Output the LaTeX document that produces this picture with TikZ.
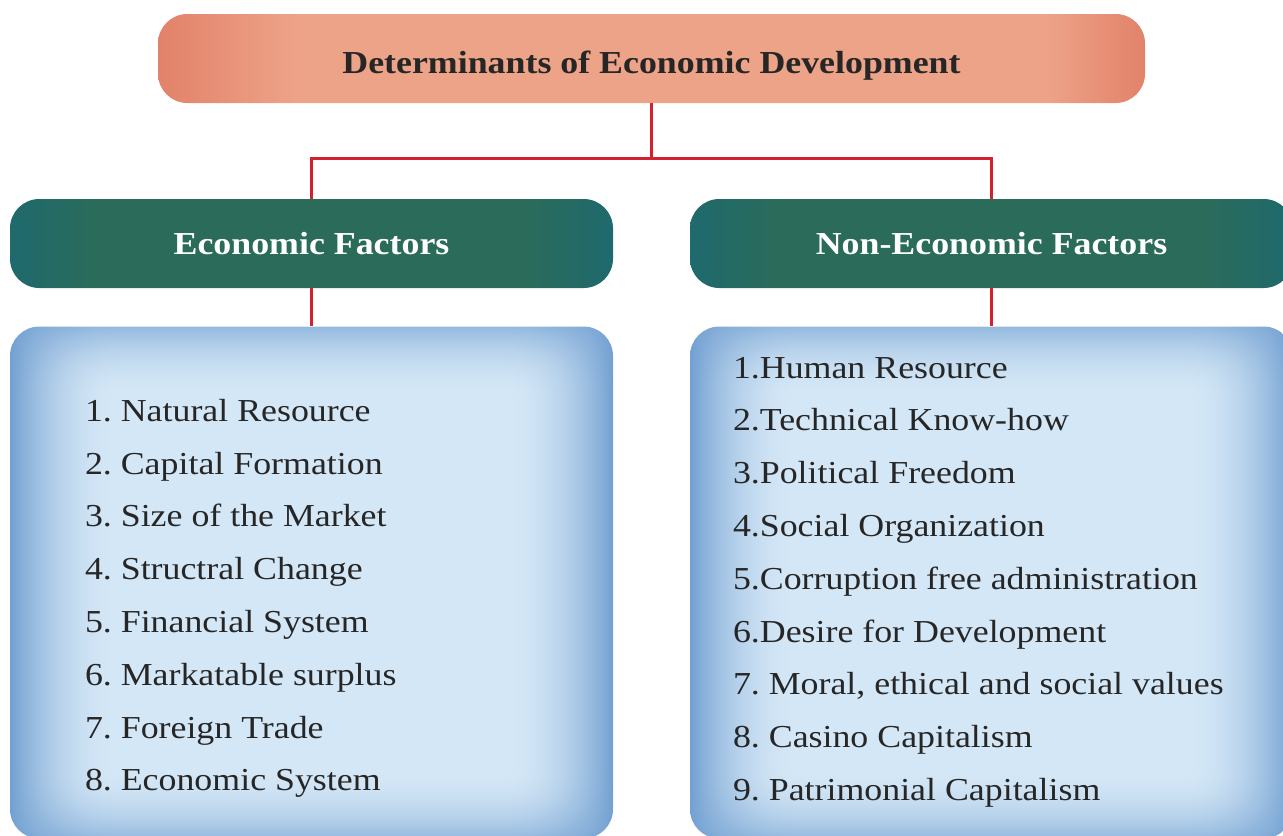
\documentclass[tikz,border=0pt]{standalone}
\usepackage{xcolor}
\usepackage{fontspec}
\setmainfont{Liberation Serif}[FakeStretch=1.12]
\usepackage{tikz}
\usetikzlibrary{positioning}
\definecolor{DRed}{HTML}{D42130}
\definecolor{DSalmonIn}{HTML}{EDA388}
\definecolor{DSalmonOut}{HTML}{E2826A}
\definecolor{DTealIn}{HTML}{2A6B5A}
\definecolor{DTealOut}{HTML}{1F6A6E}
\pgfdeclarehorizontalshading{salmonglow}{100bp}{color(0bp)=(DSalmonOut);color(25bp)=(DSalmonOut);color(32bp)=(DSalmonIn);color(70bp)=(DSalmonIn);color(75bp)=(DSalmonOut);color(100bp)=(DSalmonOut)}
\pgfdeclarehorizontalshading{tealglow}{100bp}{color(0bp)=(DTealOut);color(25bp)=(DTealOut);color(32bp)=(DTealIn);color(68bp)=(DTealIn);color(75bp)=(DTealOut);color(100bp)=(DTealOut)}
% light blue centre, darker rim on all four sides
\pgfdeclarefunctionalshading{blueglow}{\pgfpoint{0bp}{0bp}}{\pgfpoint{100bp}{100bp}}{}{
  dup 75 exch sub exch 25 sub 2 copy gt {exch} if pop
  7 div dup 1 gt {pop 1} if dup 0 lt {pop 0} if
  dup 2 exch sub mul 0.65 mul 0.35 add
  exch
  dup 75 exch sub exch 25 sub 2 copy gt {exch} if pop
  9 div dup 1 gt {pop 1} if dup 0 lt {pop 0} if
  dup 2 exch sub mul
  mul
  dup dup
  0.384 mul 0.447 add 3 1 roll
  0.279 mul 0.627 add exch
  0.145 mul 0.820 add
}

\begin{document}
\begin{tikzpicture}[
  x=0.75pt,y=-0.75pt,
  hd/.style={shade,shading=salmonglow,rounded corners=22pt,
    minimum width=740.25pt,minimum height=66.75pt,
    text height=22pt,text depth=0pt,
    font=\fontsize{24}{28}\selectfont\bfseries,text=black!85},
  cat/.style={shade,shading=tealglow,rounded corners=22pt,
    minimum width=452.25pt,minimum height=66.75pt,
    font=\fontsize{24}{28}\selectfont\bfseries,text=white},
  box/.style={shade,shading=blueglow,rounded corners=22pt,
    minimum width=452.25pt,minimum height=384pt},
  items/.style={inner sep=0pt,align=left,text=black!85,
    font=\fontsize{24}{39.6}\selectfont\frenchspacing},
  link/.style={draw=DRed,line width=2.25pt}
]
  \useasboundingbox (0,0) rectangle (1283,836);
  \node[hd] (title) at (651.5,58.5) {Determinants of Economic Development};
  \node[cat] (eco) at (311.5,243.5) {Economic Factors};
  \node[cat] (noneco) at (991.5,243.5) {Non-Economic Factors};
  \node[box,below=28.5pt of eco] (ecobox) {};
  \node[box,below=28.5pt of noneco] (nonecobox) {};
  \node[items,right=56.25pt of ecobox.west,yshift=-12pt] (ecolist)
    {1. Natural Resource\\2. Capital Formation\\3. Size of the Market\\
     4. Structral Change\\5. Financial System\\6. Markatable surplus\\
     7. Foreign Trade\\8. Economic System};
  \node[items,right=32.25pt of nonecobox.west,yshift=0.35pt] (noneclist)
    {1.Human Resource\\2.Technical Know-how\\3.Political Freedom\\
     4.Social Organization\\5.Corruption free administration\\
     6.Desire for Development\\7. Moral, ethical and social values\\
     8. Casino Capitalism\\9. Patrimonial Capitalism};
  \coordinate (split) at ([yshift=-41.25pt]title.south);
  \draw[link] (title.south) -- (split) -| (eco.north);
  \draw[link] (split) -| (noneco.north);
  \foreach \x/\y in {eco/ecobox,noneco/nonecobox}
    {\draw[link] (\x.south) -- (\y.north);}
\end{tikzpicture}
\end{document}
